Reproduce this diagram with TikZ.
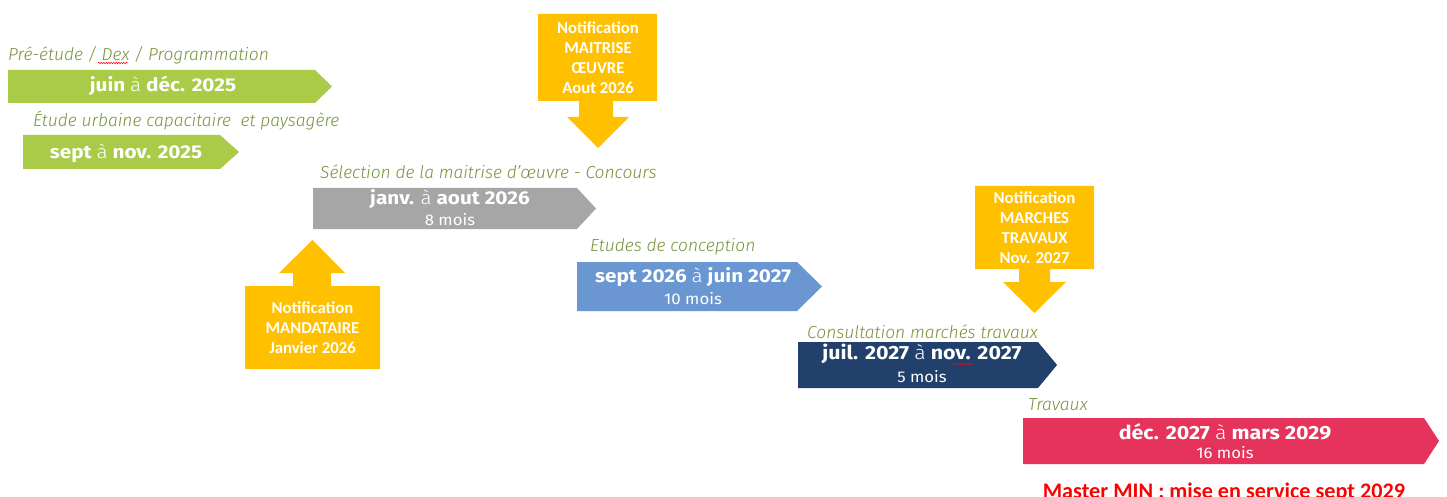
\documentclass[tikz,border=0pt]{standalone}
\usepackage{fontspec}
\setmainfont{Fira Sans}
\newfontfamily\calib{Carlito}
\newfontfamily\bigf[FakeStretch=1.12]{Fira Sans}
\newfontfamily\lightf[FakeStretch=1.12]{Fira Sans Light}
\newfontfamily\smf[FakeStretch=1.08]{Fira Sans}
\newfontfamily\labf{Fira Sans Light Italic}
\usetikzlibrary{decorations.pathmorphing}
\definecolor{lgreen}{HTML}{A9CB47}
\definecolor{labgreen}{HTML}{76923C}
\definecolor{agray}{HTML}{A6A6A6}
\definecolor{ablue}{HTML}{6A97D2}
\definecolor{anavy}{HTML}{22406C}
\definecolor{ared}{HTML}{E5335B}
\definecolor{ayellow}{HTML}{FFC000}
\newcommand\mychev[6]{\fill[#6] (#1,#2) -- (#3,#2) -- (#5,{(#2+#4)/2}) -- (#3,#4) -- (#1,#4) -- cycle;}
\newcommand\lta{{\lightf\mdseries à}}
\tikzset{
  lab/.style={font=\labf\fontsize{17.4}{19}\selectfont, text=labgreen, inner sep=0, anchor=west},
  big/.style={font=\bigf\bfseries\fontsize{18.5}{20}\selectfont, text=white, inner sep=0},
  bigc/.style={font=\bigf\bfseries\fontsize{19.1}{20}\selectfont, text=white, inner sep=0},
  small/.style={font=\smf\fontsize{15.5}{16}\selectfont, text=white, inner sep=0},
  ytext/.style={font=\calib\bfseries\fontsize{16.7}{20}\selectfont, text=white, inner sep=0, align=center},
  squig/.style={red, line width=0.5pt, decorate, decoration={snake, amplitude=0.7pt, segment length=2.5pt}}
}
\begin{document}
\begin{tikzpicture}[x=1pt,y=-1pt]
\useasboundingbox (0,0) rectangle (1447,497);
\fill[white] (0,0) rectangle (1447,497);

% phase arrows
\mychev{8}{70}{315}{103}{332}{lgreen}
\mychev{23}{135}{220}{169}{239}{lgreen}
\mychev{313}{188}{577}{229}{596}{agray}
\mychev{577}{262}{797}{311}{822}{ablue}
\mychev{798}{342}{1038}{388}{1057}{anavy}
\mychev{1023}{418}{1424}{464}{1439}{ared}

% notification arrows
\fill[ayellow] (538,14) -- (657,14) -- (657,101) -- (613,101) -- (613,117) -- (629,117) -- (598,148) -- (567,117) -- (579,117) -- (579,101) -- (538,101) -- cycle;
\fill[ayellow] (975,186) -- (1094,186) -- (1094,269) -- (1050,269) -- (1050,282) -- (1066,282) -- (1034.5,313) -- (1003,282) -- (1019,282) -- (1019,269) -- (975,269) -- cycle;
\fill[ayellow] (245,369) -- (380,369) -- (380,286) -- (331,286) -- (331,273) -- (345,273) -- (312.5,240) -- (279,273) -- (293,273) -- (293,286) -- (245,286) -- cycle;

% labels
\node[lab] (l1) at (8,55) {Pré-étude / Dex / Programmation};
\node[lab] (l2) at (33,121) {Étude urbaine capacitaire~ et paysagère};
\node[lab] (l3) at (320,172) {Sélection de la maitrise d’œuvre - Concours};
\node[lab] (l4) at (590,247) {Etudes de conception};
\node[lab] (l5) at (807,332) {Consultation marchés travaux};
\node[lab] (l6) at (1028,405) {Travaux};

% arrow texts
\node[big] (t1) at (163,86) {juin \lta{} déc. 2025};
\node[big] (t2) at (126,153) {sept \lta{} nov. 2025};
\node[big] (t3) at (450,199) {janv. \lta{} aout 2026};
\node[small] (m3) at (450,220) {8 mois};
\node[big] (t4) at (693,277) {sept 2026 \lta{} juin 2027};
\node[small] (m4) at (693,299) {10 mois};
\node[bigc] (t5) at (922,354) {juil. 2027 \lta{} nov. 2027};
\node[small] (m5) at (922,377) {5 mois};
\node[bigc] (t6) at (1225,432) {déc. 2027 \lta{} mars 2029};
\node[small] (m6) at (1225,453) {16 mois};

% notification texts
\node[ytext] (y1) at (598,58) {Notification\\MAITRISE\\ŒUVRE\\Aout 2026};
\node[ytext] (y2) at (1034.5,227.5) {Notification\\MARCHES\\TRAVAUX\\Nov. 2027};
\node[ytext] (y3) at (312.5,328) {Notification\\MANDATAIRE\\Janvier 2026};

% final milestone
\node[font=\calib\bfseries\fontsize{22.2}{24}\selectfont, text=red, inner sep=0, anchor=base] (master) at (1224,498) {Master MIN : mise en service sept 2029};

% spell-check squiggles
\draw[squig] (98,63) -- (128,63);
\draw[squig] (953,364) -- (973,364);
\end{tikzpicture}
\end{document}
